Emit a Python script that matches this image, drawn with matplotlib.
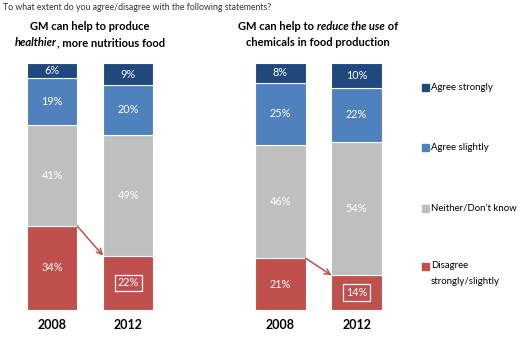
import matplotlib
matplotlib.use('Agg')
import matplotlib.pyplot as plt
from matplotlib.patches import Rectangle

# survey results, % of respondents (bottom to top)
years = ['2008', '2012']
categories = ['Disagree\nstrongly/slightly', "Neither/Don't know", 'Agree slightly', 'Agree strongly']
healthier = {'2008': [34, 41, 19, 6], '2012': [22, 49, 20, 9]}
chemicals = {'2008': [21, 46, 25, 8], '2012': [14, 54, 22, 10]}

colors = ['#C0504D', '#BFBFBF', '#4F81BD', '#1F497D']
FONT = 'Lato'

fig = plt.figure(figsize=(5.2, 3.41), dpi=100)
ax = fig.add_axes([0.027, 0.091, 0.732, 0.724])
ax.set_xlim(-0.5, 4.5)
ax.set_ylim(0, 100)
ax.axis('off')

width = 0.66
positions = [0, 1, 3, 4]
panels = [healthier, healthier, chemicals, chemicals]
for pos, data, yr in zip(positions, panels, years * 2):
    vals = data[yr]
    bottom = 0
    for i, v in enumerate(vals):
        ax.bar(pos, v, width, bottom=bottom, color=colors[i], edgecolor='white', linewidth=0.8)
        box = None
        if i == 0 and yr == '2012':
            box = dict(boxstyle='square,pad=0.25', fc='none', ec='white', lw=0.9)
        ax.text(pos, bottom + v / 2, f'{v}%', ha='center', va='center', color='white',
                fontsize=7.8, family=FONT, bbox=box)
        bottom += v
    ax.text(pos, -6, yr, ha='center', va='center', fontsize=9, fontweight='bold', family=FONT)

# arrows showing the fall in disagreement
for p0, data in [(0, healthier), (3, chemicals)]:
    ax.annotate('', xy=(p0 + 1 - width / 2, data['2012'][0]),
                xytext=(p0 + width / 2, data['2008'][0]),
                arrowprops=dict(arrowstyle='->', color='#C0504D', lw=1.1, shrinkA=0, shrinkB=0))

fig.canvas.draw()
renderer = fig.canvas.get_renderer()


def rich_line(xc, y, parts, size=8):
    # draw text pieces with mixed styles, centred on xc (figure fraction)
    texts = []
    for s, style in parts:
        t = fig.text(0, y, s, fontsize=size, fontweight='bold', fontstyle=style,
                     family=FONT, va='center', ha='left')
        texts.append(t)
    widths = [t.get_window_extent(renderer).width / fig.bbox.width for t in texts]
    x = xc - sum(widths) / 2
    for t, w in zip(texts, widths):
        t.set_x(x)
        x += w


y1 = 1 - 27 / 341
y2 = 1 - 43 / 341
rich_line(90 / 520, y1, [('GM can help to produce', 'normal')])
rich_line(90 / 520, y2, [('healthier', 'italic'), (', more nutritious food', 'normal')])
rich_line(318 / 520, y1, [('GM can help to ', 'normal'), ('reduce the use', 'italic'), (' of', 'normal')])
rich_line(318 / 520, y2, [('chemicals in food production', 'normal')])

fig.text(3 / 520, 1 - 7 / 341, 'To what extent do you agree/disagree with the following statements?',
         fontsize=6.3, family=FONT, color='#333333', va='center')

# legend
leg_y = [87, 147, 208, 266]
for cat, col, yp in zip(categories[::-1], colors[::-1], leg_y):
    fy = 1 - yp / 341
    fig.patches.append(Rectangle((422 / 520, fy - 3.5 / 341), 7 / 520, 7 / 341,
                                 transform=fig.transFigure, color=col))
    lines = cat.split('\n')
    for k, line in enumerate(lines):
        fig.text(431 / 520, fy - k * 16 / 341, line, fontsize=6.9, family=FONT, va='center')

fig.savefig('out.png', dpi=100)
